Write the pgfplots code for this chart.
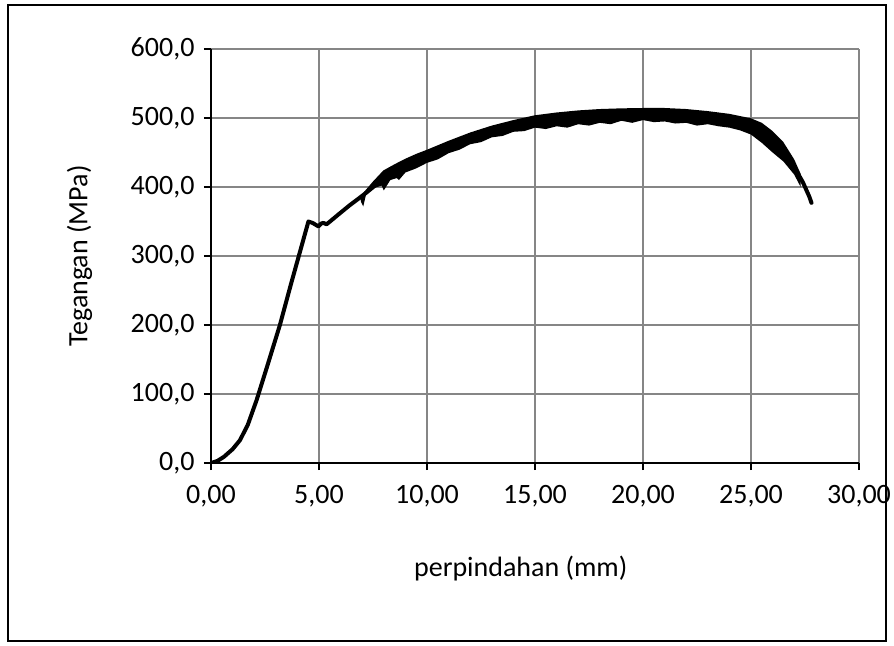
\documentclass[border=0pt]{standalone}
\usepackage{pgfplots}
\pgfplotsset{compat=1.18}
\usepackage{fontspec}
\setmainfont{Carlito}
\definecolor{gridgray}{RGB}{134,134,134}

\begin{document}
\fontsize{28bp}{34bp}\selectfont
\begin{tikzpicture}
\begin{axis}[
  name=ax,
  scale only axis, width=648bp, height=414bp,
  xmin=0, xmax=30, ymin=0, ymax=600,
  axis x line=bottom, axis y line=left,
  axis line style={-, line width=2.6bp, black},
  xtick={0,5,...,30}, ytick={0,100,...,600},
  tick align=outside, major tick length=7bp,
  tick style={line width=2.6bp, black},
  grid=major, grid style={line width=1.6bp, gridgray},
  scaled ticks=false,
  /pgf/number format/assume math mode=true,
  xticklabel style={yshift=-6bp, /pgf/number format/.cd, fixed, fixed zerofill, precision=2, use comma},
  yticklabel style={/pgf/number format/.cd, fixed, fixed zerofill, precision=1, use comma},
  tick label style={font=\fontsize{28bp}{34bp}\selectfont},
  label style={font=\fontsize{28bp}{34bp}\selectfont},
  xlabel={perpindahan (mm)},
  ylabel={Tegangan (MPa)},
  xlabel style={at={(axis description cs:0.478,-0.256)}, anchor=center},
  ylabel style={at={(axis description cs:-0.2029,0.5)}, anchor=center},
]
% noisy band of the plastic region (upper edge, then lower edge back)
\addplot[draw=none, fill=black] coordinates {
  (6.9,386) (7.5,408) (7.98,424) (8.5,433) (9,441) (9.5,448) (10,454)
  (11,467) (12,479) (13,489) (14,497) (15,504) (16,508) (17,511) (18,513)
  (19,514) (20,514.5) (21,514.5) (22,513) (23,510) (24,506) (25,499.5)
  (25.5,493) (26,481) (26.5,465) (27,440) (27.3,419)
  (27.3,400) (27,418) (26.5,437) (26,450) (25.5,464) (25,476) (24.5,482)
  (24,486) (23.5,488) (23,491) (22.5,489) (22,493) (21.5,492) (21,495)
  (20.5,494) (20,497) (19.5,493) (19,496) (18.5,491) (18,493) (17.5,489)
  (17,491) (16.5,486) (16,488) (15.5,484) (15,486) (14.5,481) (14,480)
  (13.5,474) (13,472) (12.5,465) (12,462) (11.5,454) (11,449) (10.5,440)
  (10,435) (9.5,427) (9,421) (8.7,410) (8.6,413) (8.3,410) (8.0,395)
  (7.9,402) (7.5,398) (7.2,392) (7.05,372) (6.95,378)
};
% main curve
\addplot[black, line width=4bp, line cap=round, line join=round] coordinates {
  (0,0) (0.3,3) (0.6,9) (1.0,20) (1.34,33) (1.7,55) (2.11,91) (2.6,140)
  (3.19,200) (3.7,259) (4.27,323) (4.51,350) (4.7,348) (4.97,343) (5.1,347)
  (5.2,348) (5.35,346) (5.51,350) (5.97,362) (6.4,373) (6.74,381) (7.2,392)
  (7.82,408) (8.5,420) (9,430) (10,444) (11,458) (12,470) (13,480) (14,488)
  (15,494) (16,498) (17,501) (18,503) (19,505) (20,505.5) (21,505.5)
  (22,503) (23,500.5) (24,496) (25,488) (25.5,479) (26,465) (26.5,451)
  (27,429) (27.4,407) (27.7,386) (27.8,377)
};
\end{axis}
\draw[line width=2bp] ([shift={(-203.2bp,-178bp)}]ax.south west)
  rectangle ([shift={(27.2bp,44bp)}]ax.north east);
\pgfresetboundingbox
\useasboundingbox ([shift={(-211bp,-183bp)}]ax.south west)
  rectangle ([shift={(35bp,49bp)}]ax.north east);
\end{tikzpicture}
\end{document}
